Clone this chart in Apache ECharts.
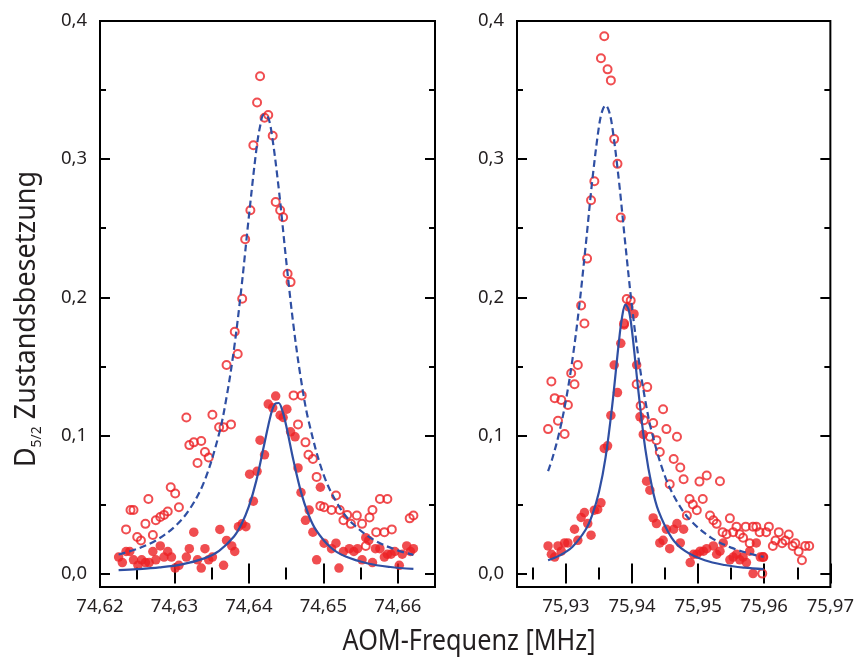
<!DOCTYPE html>
<html>
<head>
<meta charset="utf-8">
<script src="https://cdn.jsdelivr.net/npm/echarts@6/dist/echarts.min.js"></script>
<style>
  html, body { margin: 0; padding: 0; background: #fff; }
  #chart { width: 857px; height: 659px; }
</style>
</head>
<body>
<div id="chart"></div>
<script>
// ---- Measured populations, left resonance (74.62–74.665 MHz) ----
const leftHollow = [
  [74.6415,0.360],[74.6411,0.341],[74.6426,0.332],[74.6421,0.330],[74.6432,0.317],[74.6406,0.310],
  [74.6436,0.269],[74.6442,0.263],[74.6402,0.263],[74.6446,0.258],[74.6395,0.242],[74.6452,0.217],
  [74.6456,0.211],[74.6391,0.199],[74.6381,0.175],[74.6385,0.159],[74.6370,0.151],[74.6460,0.129],
  [74.6471,0.129],[74.6316,0.113],[74.6351,0.115],[74.6360,0.106],[74.6366,0.106],[74.6376,0.108],
  [74.6466,0.108],[74.6320,0.093],[74.6326,0.095],[74.6336,0.096],[74.6341,0.088],[74.6331,0.080],
  [74.6346,0.084],[74.6476,0.095],[74.6480,0.086],[74.6486,0.083],[74.6491,0.070],[74.6295,0.0625],
  [74.6301,0.058],[74.6265,0.054],[74.6241,0.046],[74.6245,0.046],[74.6306,0.048],[74.6291,0.045],
  [74.6286,0.0425],[74.6281,0.041],[74.6275,0.0386],[74.6261,0.036],[74.6235,0.032],[74.6250,0.0265],
  [74.6255,0.024],[74.6271,0.028],[74.6496,0.049],[74.6501,0.048],[74.6511,0.046],[74.6517,0.0565],
  [74.6522,0.046],[74.6532,0.0425],[74.6527,0.0386],[74.6537,0.036],[74.6545,0.042],[74.6552,0.036],
  [74.6562,0.0406],[74.6566,0.046],[74.6576,0.054],[74.6586,0.054],[74.6571,0.030],[74.6582,0.030],
  [74.6592,0.032],[74.6557,0.020],[74.6616,0.040],[74.6621,0.042]
];
const leftFilled = [
  [74.6436,0.1285],[74.6426,0.1227],[74.6432,0.120],[74.6451,0.119],[74.6442,0.1147],[74.6446,0.113],
  [74.6456,0.1026],[74.6462,0.099],[74.6415,0.0966],[74.6421,0.086],[74.6411,0.074],[74.6401,0.072],
  [74.6466,0.0765],[74.6406,0.0524],[74.6470,0.0587],[74.6496,0.0625],[74.6481,0.046],[74.6476,0.0386],
  [74.6486,0.030],[74.6386,0.034],[74.6391,0.036],[74.6396,0.034],[74.6370,0.024],[74.6377,0.020],
  [74.6381,0.016],[74.6361,0.032],[74.6326,0.030],[74.6501,0.022],[74.6517,0.022],[74.6511,0.018],
  [74.6527,0.016],[74.6535,0.018],[74.6541,0.016],[74.6546,0.018],[74.6557,0.026],[74.6561,0.024],
  [74.6552,0.010],[74.6566,0.008],[74.6570,0.018],[74.6576,0.018],[74.6582,0.012],[74.6586,0.014],
  [74.6591,0.014],[74.6596,0.016],[74.6602,0.006],[74.6606,0.014],[74.6612,0.020],[74.6617,0.016],
  [74.6621,0.018],[74.6491,0.010],[74.6521,0.004],[74.6225,0.012],[74.6230,0.008],[74.6235,0.016],
  [74.6240,0.016],[74.6245,0.010],[74.6251,0.006],[74.6256,0.010],[74.6261,0.008],[74.6266,0.008],
  [74.6271,0.016],[74.6275,0.010],[74.6281,0.020],[74.6286,0.012],[74.6291,0.016],[74.6296,0.012],
  [74.6301,0.004],[74.6306,0.006],[74.6316,0.012],[74.6320,0.018],[74.6331,0.010],[74.6336,0.004],
  [74.6341,0.018],[74.6346,0.010],[74.6351,0.012],[74.6366,0.006]
];
// Lorentzian fit curves, left resonance
const leftFitDashed = [
  [74.6225,0.0138],[74.625,0.0179],[74.6275,0.0240],[74.630,0.0338],[74.632,0.0463],[74.634,0.0666],
  [74.636,0.1013],[74.637,0.1277],[74.638,0.1625],[74.639,0.2070],[74.640,0.2585],[74.641,0.3067],
  [74.6415,0.3236],[74.642,0.3322],[74.6425,0.3312],[74.643,0.3208],[74.644,0.2792],[74.645,0.2271],
  [74.646,0.1791],[74.647,0.1405],[74.648,0.1110],[74.650,0.0721],[74.652,0.0496],[74.654,0.0359],
  [74.657,0.0237],[74.660,0.0168],[74.6621,0.0136]
];
const leftFitSolid = [
  [74.6225,0.0025],[74.625,0.0032],[74.628,0.0045],[74.631,0.0067],[74.634,0.0110],[74.636,0.0165],
  [74.638,0.0269],[74.639,0.0357],[74.640,0.0486],[74.641,0.0673],[74.642,0.0920],[74.643,0.1160],
  [74.6435,0.1228],[74.644,0.1235],[74.6445,0.1178],[74.645,0.1074],[74.646,0.0816],[74.647,0.0590],
  [74.648,0.0428],[74.649,0.0317],[74.651,0.0189],[74.653,0.0123],[74.656,0.0073],[74.659,0.0048],
  [74.6621,0.0034]
];

// ---- Measured populations, right resonance (75.9226–75.97 MHz) ----
const rightHollow = [
  [75.9358,0.389],[75.9353,0.373],[75.9363,0.365],[75.9368,0.357],[75.9373,0.3145],[75.9378,0.2966],
  [75.9343,0.284],[75.9338,0.2703],[75.9383,0.2577],[75.9332,0.228],[75.9392,0.1988],[75.9398,0.1976],
  [75.9323,0.194],[75.9328,0.181],[75.9388,0.181],[75.9318,0.151],[75.9308,0.145],[75.9313,0.137],
  [75.9407,0.137],[75.9423,0.135],[75.9278,0.139],[75.9283,0.127],[75.9293,0.1256],[75.9303,0.122],
  [75.9413,0.1215],[75.9288,0.1106],[75.9418,0.111],[75.9447,0.119],[75.9432,0.109],[75.9273,0.1046],
  [75.9298,0.101],[75.9427,0.099],[75.9452,0.1046],[75.9468,0.099],[75.9437,0.0966],[75.9442,0.088],
  [75.9463,0.083],[75.9473,0.0768],[75.9457,0.0647],[75.9478,0.0683],[75.9502,0.0666],[75.9513,0.071],
  [75.9533,0.0669],[75.9487,0.054],[75.9492,0.050],[75.9498,0.0459],[75.9507,0.054],[75.9483,0.042],
  [75.9518,0.042],[75.9523,0.0386],[75.9528,0.036],[75.9537,0.030],[75.9543,0.0285],[75.9548,0.040],
  [75.9553,0.030],[75.9558,0.034],[75.9563,0.0285],[75.9568,0.026],[75.9572,0.034],[75.9578,0.022],
  [75.9583,0.034],[75.9588,0.034],[75.9593,0.030],[75.9598,0.012],[75.9597,0.000],[75.9603,0.030],
  [75.9607,0.034],[75.9613,0.020],[75.9617,0.024],[75.9622,0.030],[75.9627,0.022],[75.9632,0.024],
  [75.9637,0.0283],[75.9643,0.020],[75.9647,0.022],[75.9652,0.016],[75.9657,0.0096],[75.9662,0.020],
  [75.9668,0.020]
];
const rightFilled = [
  [75.9395,0.193],[75.9403,0.188],[75.9388,0.180],[75.9383,0.1667],[75.9373,0.151],[75.9407,0.151],
  [75.9378,0.131],[75.9412,0.1135],[75.9417,0.1007],[75.9368,0.1145],[75.9363,0.0925],[75.9358,0.0906],
  [75.9422,0.0669],[75.9427,0.0604],[75.9353,0.0512],[75.9348,0.0464],[75.9343,0.0459],[75.9328,0.0442],
  [75.9323,0.0406],[75.9333,0.0362],[75.9313,0.0321],[75.9338,0.0278],[75.9318,0.0241],[75.9298,0.0222],
  [75.9303,0.0222],[75.9273,0.020],[75.9288,0.020],[75.9293,0.0162],[75.9278,0.014],[75.9283,0.012],
  [75.9432,0.0403],[75.9437,0.0362],[75.9452,0.0321],[75.9463,0.0321],[75.9468,0.0362],[75.9478,0.0321],
  [75.9442,0.0222],[75.9447,0.0241],[75.9457,0.018],[75.9473,0.0222],[75.9488,0.008],[75.9493,0.014],
  [75.9498,0.014],[75.9503,0.0162],[75.9508,0.0162],[75.9513,0.018],[75.9523,0.020],[75.9528,0.014],
  [75.9533,0.0162],[75.9538,0.0222],[75.9548,0.010],[75.9553,0.012],[75.9558,0.014],[75.9563,0.010],
  [75.9568,0.012],[75.9573,0.008],[75.9578,0.0162],[75.9588,0.0222],[75.9594,0.012],[75.9599,0.012],
  [75.9583,0.000]
];
// Lorentzian fit curves, right resonance
const rightFitDashed = [
  [75.9273,0.0741],[75.928,0.0842],[75.929,0.1022],[75.930,0.1255],[75.931,0.1554],[75.932,0.1930],
  [75.933,0.2379],[75.934,0.2851],[75.935,0.3237],[75.9355,0.3350],[75.936,0.3390],[75.9365,0.3350],
  [75.937,0.3237],[75.938,0.2851],[75.939,0.2379],[75.940,0.1930],[75.941,0.1554],[75.942,0.1255],
  [75.943,0.1022],[75.945,0.0702],[75.947,0.0505],[75.949,0.0377],[75.952,0.0259],[75.955,0.0188],
  [75.958,0.0142],[75.9599,0.0121]
];
const rightFitSolid = [
  [75.9273,0.0097],[75.929,0.0130],[75.931,0.0195],[75.933,0.0319],[75.934,0.0427],[75.935,0.0590],
  [75.936,0.0841],[75.937,0.1215],[75.938,0.1672],[75.9385,0.1858],[75.939,0.1947],[75.9395,0.1908],
  [75.940,0.1755],[75.941,0.1304],[75.942,0.0905],[75.943,0.0632],[75.944,0.0454],[75.946,0.0259],
  [75.948,0.0164],[75.951,0.0096],[75.954,0.0062],[75.957,0.0043],[75.9599,0.0032]
];

// ---- Axis ranges and ticks ----
const yRange = [-0.0097, 0.4];
const yMajor = [0, 0.1, 0.2, 0.3, 0.4];
const yMinor = [0.05, 0.15, 0.25, 0.35];
const leftRange = [74.62, 74.665];
const leftMajor = [74.62, 74.63, 74.64, 74.65, 74.66];
const leftMinor = [74.625, 74.635, 74.645, 74.655];
const rightRange = [75.9226, 75.97];
const rightMajor = [75.93, 75.94, 75.95, 75.96, 75.97];
const rightMinor = [75.925, 75.935, 75.945, 75.955, 75.965];

const RED = '#ec2024';
const BLUE = '#2f4fa3';
const INK = '#231f20';
const FONT = '"Noto Sans", "Open Sans", sans-serif';

function commaFmt(digits) {
  return v => Number(v).toFixed(digits).replace('.', ',');
}

// One axis carrying ticks (and optionally labels) at given values
function tickAxis(dim, gridIndex, range, values, position, len, labels, digits) {
  return {
    type: 'value', gridIndex, position, min: range[0], max: range[1],
    axisLine: { show: false },
    splitLine: { show: false },
    axisTick: { show: true, inside: true, length: len, customValues: values,
                lineStyle: { color: '#000', width: 2 } },
    axisLabel: labels ? {
      show: true, customValues: values, formatter: commaFmt(digits),
      fontSize: 18.5, fontFamily: FONT, color: INK,
      margin: dim === 'x' ? 10 : 13, hideOverlap: false, showMinLabel: true, showMaxLabel: true
    } : { show: false }
  };
}

function xAxesFor(g, range, major, minor) {
  return [
    tickAxis('x', g, range, major, 'bottom', 10, true, 2),
    tickAxis('x', g, range, minor, 'bottom', 6, false),
    tickAxis('x', g, range, major, 'top', 10, false),
    tickAxis('x', g, range, minor, 'top', 6, false)
  ];
}
function yAxesFor(g) {
  return [
    tickAxis('y', g, yRange, yMajor, 'left', 10, true, 1),
    tickAxis('y', g, yRange, yMinor, 'left', 6, false),
    tickAxis('y', g, yRange, yMajor, 'right', 10, false),
    tickAxis('y', g, yRange, yMinor, 'right', 6, false)
  ];
}

function hollow(data, ax) {
  return { type: 'scatter', data, xAxisIndex: ax, yAxisIndex: ax, symbol: 'circle', symbolSize: 8,
           itemStyle: { color: 'rgba(0,0,0,0)', borderColor: RED, borderWidth: 2 }, z: 2, silent: true };
}
function filled(data, ax) {
  return { type: 'scatter', data, xAxisIndex: ax, yAxisIndex: ax, symbol: 'circle', symbolSize: 9.5,
           itemStyle: { color: RED }, z: 2, silent: true };
}
function fit(data, ax, dashed) {
  return { type: 'line', data, xAxisIndex: ax, yAxisIndex: ax, smooth: 0.35, showSymbol: false,
           lineStyle: { color: BLUE, width: 2.2, type: dashed ? [7, 4] : 'solid' }, z: 3, silent: true };
}

const chart = echarts.init(document.getElementById('chart'), null, { renderer: 'canvas' });
chart.setOption({
  animation: false,
  backgroundColor: '#fff',
  grid: [
    { left: 100, top: 21, width: 335, height: 566, show: true, borderColor: '#000', borderWidth: 2 },
    { left: 517, top: 21, width: 318, height: 566, show: true, borderColor: '#000', borderWidth: 2 }
  ],
  xAxis: [...xAxesFor(0, leftRange, leftMajor, leftMinor), ...xAxesFor(1, rightRange, rightMajor, rightMinor)],
  yAxis: [...yAxesFor(0), ...yAxesFor(1)],
  series: [
    hollow(leftHollow, 0), filled(leftFilled, 0),
    fit(leftFitDashed, 0, true), fit(leftFitSolid, 0, false),
    hollow(rightHollow, 4), filled(rightFilled, 4),
    fit(rightFitDashed, 4, true), fit(rightFitSolid, 4, false)
  ],
  graphic: [
    {
      type: 'text', x: 469, y: 642, scaleX: 0.87,
      style: { text: 'AOM-Frequenz [MHz]', fontSize: 29, fontFamily: FONT, fill: INK,
               align: 'center', verticalAlign: 'middle' }
    },
    {
      type: 'text', x: 27, y: 319, rotation: Math.PI / 2, scaleX: 0.93,
      style: {
        text: '{d|D}{s|5/2}{n| Zustandsbesetzung}',
        align: 'center', verticalAlign: 'middle', fill: INK,
        rich: {
          d: { fontSize: 29, fontFamily: FONT, fill: INK, lineHeight: 34 },
          s: { fontSize: 15, fontFamily: FONT, fill: INK, lineHeight: 21, verticalAlign: 'bottom' },
          n: { fontSize: 29, fontFamily: FONT, fill: INK, lineHeight: 34 }
        }
      }
    }
  ]
});
</script>
</body>
</html>
